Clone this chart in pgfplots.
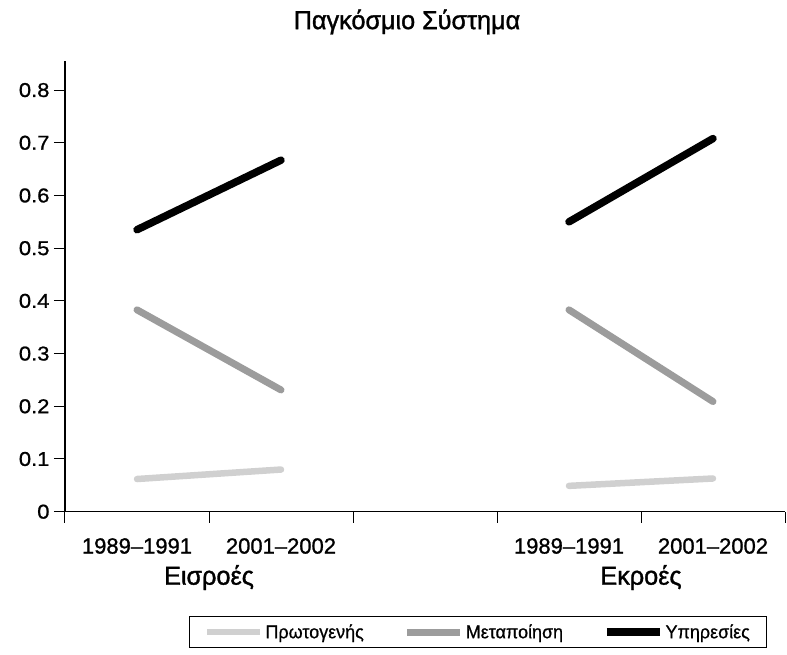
\documentclass[border=0pt]{standalone}
\usepackage{fontspec}
\setmainfont{Liberation Sans}
\newfontfamily\cond[FakeStretch=0.97, FakeBold=1.3]{Liberation Sans}
\newfontfamily\legf[FakeStretch=0.97, FakeBold=0.8]{Liberation Sans}
\newfontfamily\numf[FakeStretch=1.1, FakeBold=1.0]{Liberation Sans}
\newfontfamily\yearf[FakeBold=1.0]{Liberation Sans}
\usepackage{pgfplots}
\pgfplotsset{compat=1.18}
\definecolor{lgray}{HTML}{D0D0D0}
\definecolor{mgray}{HTML}{9C9C9C}
\begin{document}
\begin{tikzpicture}
\useasboundingbox (0,0) rectangle (787pt,655pt);
\begin{axis}[
  at={(65pt,143.3pt)}, anchor=origin,
  scale only axis, width=720pt, height=450.6pt,
  xmin=0, xmax=5, ymin=0, ymax=0.855,
  axis lines=left, axis line style={-, line width=1.1pt},
  xtick={0,1,2,3,4,5}, xticklabels={},
  ytick={0,0.1,...,0.8},
  yticklabels={0,0.1,0.2,0.3,0.4,0.5,0.6,0.7,0.8},
  tick align=outside, major tick length=11pt,
  tick style={line width=1pt, black},
  /pgf/number format/assume math mode=true,
  yticklabel style={font=\numf\fontsize{20}{20}\selectfont, xshift=-1pt},
  extra x ticks={0.5,1.5,3.5,4.5},
  extra x tick labels={1989–1991,2001–2002,1989–1991,2001–2002},
  extra x tick style={major tick length=0pt, tick label style={yshift=-23pt, font=\yearf\fontsize{22}{22}\selectfont}},
  clip=false,
  legend columns=3,
  legend style={at={(0.5735,-0.267)}, anchor=center, draw=black, line width=0.9pt,
    font=\legf\fontsize{18.5}{18.5}\selectfont, inner xsep=15pt, inner ysep=6pt,
    /tikz/every even column/.append style={column sep=38pt}},
  legend image code/.code={\draw[#1, line cap=butt] (0pt,0pt) -- (53pt,0pt);},
]
\addplot[lgray, line width=6.5pt, line cap=round] coordinates {(0.5,0.062) (1.5,0.080)};
\addplot[mgray, line width=7pt, line cap=round] coordinates {(0.5,0.383) (1.5,0.231)};
\addplot[black, line width=7.5pt, line cap=round] coordinates {(0.5,0.535) (1.5,0.667)};
\addplot[lgray, line width=6.5pt, line cap=round, forget plot] coordinates {(3.5,0.049) (4.5,0.063)};
\addplot[mgray, line width=7pt, line cap=round, forget plot] coordinates {(3.5,0.383) (4.5,0.209)};
\addplot[black, line width=7.5pt, line cap=round, forget plot] coordinates {(3.5,0.550) (4.5,0.708)};
\legend{Πρωτογενής, Μεταποίηση, Υπηρεσίες}
\node[font=\cond\fontsize{26}{26}\selectfont] at (axis cs:1,-0.125) {Εισροές};
\node[font=\cond\fontsize{26}{26}\selectfont] at (axis cs:4,-0.125) {Εκροές};
\end{axis}
\node[font=\cond\fontsize{26}{26}\selectfont] at (407pt,633pt) {Παγκόσμιο Σύστημα};
\end{tikzpicture}
\end{document}
